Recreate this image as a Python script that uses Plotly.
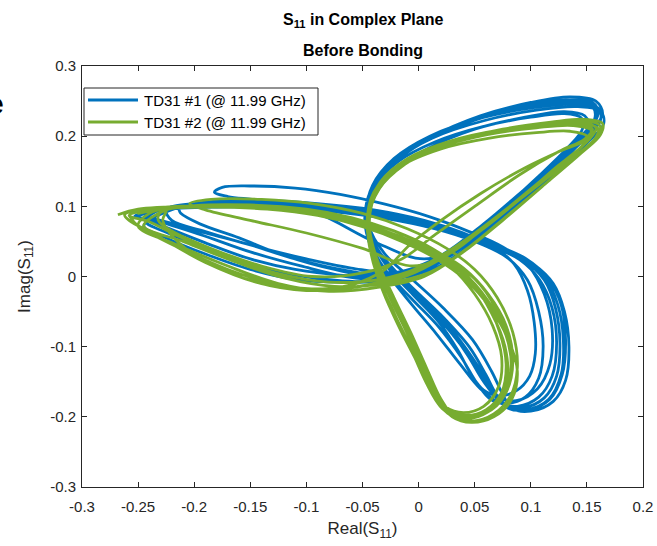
import plotly.graph_objects as go

# ---------------- data (Real, Imag) ----------------
blue_loop1 = [(-0.245,0.088),(-0.22,0.098),(-0.17,0.101),(-0.12,0.099),(-0.07,0.093),(-0.02,0.082),(0.03,0.066),(0.065,0.047),(0.095,0.026),(0.115,-0.002),(0.127,-0.04),(0.131,-0.09),(0.128,-0.14),(0.117,-0.175),(0.097,-0.19),(0.08,-0.186),(0.067,-0.165),(0.053,-0.128),(0.034,-0.085),(0.01,-0.042),(-0.015,-0.002),(-0.037,0.035),(-0.046,0.075),(-0.042,0.118),(-0.025,0.158),(0.005,0.192),(0.05,0.224),(0.1,0.244),(0.14,0.251),(0.158,0.243),(0.158,0.222),(0.14,0.186),(0.11,0.14),(0.075,0.09),(0.04,0.045),(0.01,0.012),(-0.03,-0.006),(-0.07,-0.006),(-0.11,0.002),(-0.15,0.018),(-0.19,0.04),(-0.225,0.063),(-0.243,0.078)]
blue_loop2 = [(-0.235,0.092),(-0.21,0.101),(-0.16,0.104),(-0.11,0.101),(-0.06,0.095),(-0.015,0.083),(0.03,0.064),(0.062,0.045),(0.09,0.024),(0.108,-0.005),(0.119,-0.045),(0.123,-0.095),(0.119,-0.142),(0.107,-0.172),(0.088,-0.185),(0.072,-0.18),(0.055,-0.16),(0.037,-0.125),(0.016,-0.082),(-0.006,-0.04),(-0.026,0.0),(-0.042,0.04),(-0.048,0.082),(-0.042,0.125),(-0.022,0.165),(0.01,0.198),(0.055,0.229),(0.1,0.248),(0.135,0.256),(0.158,0.25),(0.164,0.232),(0.155,0.21),(0.13,0.172),(0.095,0.125),(0.058,0.075),(0.02,0.03),(-0.02,0.006),(-0.06,0.012),(-0.1,0.025),(-0.15,0.045),(-0.19,0.064),(-0.22,0.08)]
blue_loop3 = [(-0.225,0.095),(-0.2,0.104),(-0.15,0.106),(-0.1,0.103),(-0.05,0.096),(-0.005,0.082),(0.04,0.06),(0.075,0.04),(0.102,0.018),(0.12,-0.01),(0.13,-0.05),(0.134,-0.1),(0.131,-0.148),(0.12,-0.178),(0.1,-0.192),(0.083,-0.188),(0.075,-0.168),(0.065,-0.135),(0.048,-0.09),(0.022,-0.045),(-0.005,-0.005),(-0.03,0.032),(-0.044,0.072),(-0.04,0.112),(-0.022,0.15),(0.008,0.182),(0.05,0.21),(0.095,0.227),(0.13,0.235),(0.148,0.229),(0.152,0.21),(0.138,0.18),(0.11,0.135),(0.075,0.085),(0.04,0.045),(0.005,0.025),(-0.04,0.05),(-0.09,0.09),(-0.14,0.108),(-0.17,0.114)]
blue_loop4 = [(-0.182,0.12),(-0.175,0.127),(-0.15,0.129),(-0.11,0.126),(-0.07,0.117),(-0.03,0.103),(0.01,0.085),(0.045,0.064),(0.075,0.042),(0.098,0.015),(0.112,-0.025),(0.119,-0.075),(0.117,-0.125),(0.106,-0.16),(0.087,-0.177),(0.07,-0.172),(0.058,-0.15),(0.044,-0.113),(0.025,-0.07),(0.002,-0.03),(-0.022,0.01),(-0.04,0.048),(-0.046,0.09),(-0.04,0.13),(-0.02,0.166),(0.012,0.197),(0.058,0.222),(0.105,0.237),(0.142,0.242),(0.162,0.236),(0.165,0.218),(0.15,0.19),(0.12,0.145),(0.085,0.097),(0.05,0.05),(0.015,0.012),(-0.025,-0.004),(-0.065,0.0),(-0.105,0.015),(-0.15,0.035),(-0.195,0.06),(-0.235,0.08)]
blue_loop5 = [(-0.25,0.085),(-0.225,0.096),(-0.18,0.1),(-0.13,0.099),(-0.08,0.094),(-0.03,0.084),(0.02,0.068),(0.058,0.05),(0.09,0.028),(0.112,0.0),(0.124,-0.04),(0.129,-0.09),(0.127,-0.14),(0.116,-0.175),(0.096,-0.19),(0.079,-0.187),(0.07,-0.17),(0.06,-0.14),(0.045,-0.1),(0.02,-0.055),(-0.008,-0.012),(-0.032,0.028),(-0.046,0.073),(-0.044,0.115),(-0.028,0.155),(0.0,0.19),(0.045,0.222),(0.095,0.243),(0.135,0.252),(0.155,0.248),(0.16,0.232),(0.148,0.2),(0.12,0.152),(0.085,0.1),(0.048,0.052),(0.012,0.014),(-0.028,-0.006),(-0.07,-0.008),(-0.11,-0.004),(-0.15,0.01),(-0.19,0.032),(-0.225,0.055),(-0.245,0.072)]
blue_loop6 = [(-0.215,0.098),(-0.19,0.106),(-0.14,0.108),(-0.09,0.104),(-0.04,0.095),(0.005,0.08),(0.04,0.062),(0.066,0.043),(0.085,0.018),(0.097,-0.02),(0.103,-0.065),(0.104,-0.11),(0.099,-0.142),(0.087,-0.163),(0.071,-0.17),(0.058,-0.162),(0.047,-0.14),(0.035,-0.105),(0.018,-0.065),(-0.005,-0.026),(-0.027,0.012),(-0.041,0.05),(-0.045,0.09),(-0.038,0.13),(-0.018,0.164),(0.015,0.192),(0.058,0.214),(0.1,0.227),(0.13,0.232),(0.145,0.226),(0.146,0.21),(0.132,0.182),(0.105,0.14),(0.072,0.092),(0.038,0.046),(0.004,0.012),(-0.035,0.0),(-0.075,0.01),(-0.12,0.03),(-0.16,0.055),(-0.195,0.075),(-0.212,0.09),(-0.215,0.098)]
blue_loop7 = [(-0.24,0.09),(-0.215,0.1),(-0.165,0.103),(-0.115,0.1),(-0.065,0.094),(-0.018,0.083),(0.028,0.066),(0.062,0.048),(0.092,0.025),(0.112,-0.005),(0.122,-0.045),(0.126,-0.095),(0.123,-0.142),(0.112,-0.173),(0.093,-0.187),(0.076,-0.183),(0.064,-0.162),(0.05,-0.125),(0.03,-0.082),(0.006,-0.04),(-0.018,0.0),(-0.038,0.038),(-0.047,0.078),(-0.043,0.12),(-0.024,0.16),(0.007,0.194),(0.052,0.224),(0.1,0.242),(0.138,0.249),(0.155,0.242),(0.157,0.225),(0.142,0.195),(0.115,0.15),(0.08,0.1),(0.044,0.052),(0.01,0.016),(-0.03,0.0),(-0.07,0.002),(-0.11,0.01),(-0.15,0.025),(-0.19,0.048),(-0.225,0.07),(-0.243,0.082)]
blue_loop8 = [(-0.253,0.086),(-0.23,0.095),(-0.18,0.099),(-0.13,0.098),(-0.08,0.093),(-0.03,0.083),(0.015,0.068),(0.05,0.05),(0.078,0.028),(0.097,-0.005),(0.107,-0.05),(0.111,-0.1),(0.107,-0.145),(0.095,-0.172),(0.078,-0.181),(0.064,-0.175),(0.052,-0.152),(0.038,-0.115),(0.018,-0.072),(-0.006,-0.032),(-0.029,0.008),(-0.043,0.048),(-0.047,0.09),(-0.041,0.13),(-0.022,0.168),(0.01,0.2),(0.056,0.226),(0.104,0.241),(0.142,0.246),(0.16,0.24),(0.162,0.222),(0.146,0.193),(0.116,0.148),(0.082,0.1),(0.046,0.052),(0.012,0.015),(-0.028,0.002),(-0.07,0.01),(-0.11,0.025),(-0.15,0.045),(-0.19,0.062),(-0.225,0.078),(-0.245,0.085)]

green_loop1 = [(-0.268,0.088),(-0.25,0.096),(-0.2,0.1),(-0.15,0.099),(-0.1,0.092),(-0.06,0.078),(-0.02,0.058),(0.015,0.036),(0.04,0.012),(0.062,-0.025),(0.078,-0.07),(0.084,-0.12),(0.078,-0.165),(0.062,-0.193),(0.042,-0.203),(0.026,-0.195),(0.012,-0.165),(-0.002,-0.12),(-0.018,-0.07),(-0.032,-0.02),(-0.042,0.03),(-0.045,0.08),(-0.035,0.125),(-0.012,0.16),(0.025,0.19),(0.07,0.208),(0.115,0.218),(0.148,0.222),(0.162,0.214),(0.158,0.198),(0.14,0.17),(0.11,0.128),(0.075,0.08),(0.04,0.035),(0.005,0.0),(-0.035,-0.015),(-0.08,-0.021),(-0.125,-0.01),(-0.17,0.015),(-0.215,0.045),(-0.25,0.072)]
green_loop2 = [(-0.24,0.09),(-0.22,0.098),(-0.17,0.101),(-0.12,0.097),(-0.075,0.086),(-0.035,0.068),(0.0,0.046),(0.03,0.022),(0.055,-0.012),(0.073,-0.06),(0.082,-0.11),(0.079,-0.158),(0.065,-0.188),(0.045,-0.2),(0.028,-0.193),(0.015,-0.168),(0.002,-0.125),(-0.012,-0.075),(-0.027,-0.025),(-0.04,0.025),(-0.046,0.075),(-0.04,0.12),(-0.018,0.157),(0.018,0.186),(0.062,0.205),(0.108,0.216),(0.142,0.22),(0.158,0.212),(0.152,0.195),(0.13,0.165),(0.098,0.122),(0.062,0.075),(0.03,0.035),(-0.005,0.015),(-0.05,0.04),(-0.1,0.062),(-0.15,0.08),(-0.19,0.095)]
green_loop3 = [(-0.204,0.104),(-0.185,0.11),(-0.14,0.11),(-0.095,0.104),(-0.05,0.09),(-0.01,0.068),(0.025,0.04),(0.05,0.01),(0.07,-0.03),(0.084,-0.08),(0.088,-0.13),(0.082,-0.17),(0.067,-0.196),(0.048,-0.206),(0.032,-0.2),(0.02,-0.175),(0.007,-0.13),(-0.007,-0.08),(-0.022,-0.03),(-0.036,0.02),(-0.044,0.07),(-0.04,0.115),(-0.02,0.152),(0.014,0.182),(0.058,0.202),(0.105,0.213),(0.14,0.218),(0.155,0.21),(0.148,0.196),(0.125,0.178),(0.09,0.145),(0.05,0.1),(0.015,0.06),(-0.015,0.025),(-0.05,0.005),(-0.095,0.0),(-0.14,0.015),(-0.185,0.04),(-0.22,0.065),(-0.232,0.08)]
green_loop4 = [(-0.23,0.092),(-0.21,0.099),(-0.16,0.1),(-0.11,0.095),(-0.065,0.082),(-0.028,0.062),(0.005,0.038),(0.03,0.012),(0.05,-0.025),(0.066,-0.07),(0.074,-0.115),(0.071,-0.158),(0.058,-0.185),(0.04,-0.194),(0.024,-0.186),(0.012,-0.16),(0.0,-0.118),(-0.013,-0.07),(-0.027,-0.022),(-0.039,0.028),(-0.044,0.078),(-0.037,0.122),(-0.016,0.157),(0.02,0.182),(0.062,0.197),(0.105,0.205),(0.135,0.207),(0.15,0.2),(0.145,0.185),(0.122,0.155),(0.09,0.11),(0.056,0.066),(0.023,0.028),(-0.012,0.0),(-0.055,-0.015),(-0.1,-0.02),(-0.145,-0.008),(-0.19,0.02),(-0.235,0.06),(-0.258,0.08)]
green_loop5 = [(-0.262,0.088),(-0.24,0.097),(-0.19,0.1),(-0.14,0.098),(-0.09,0.09),(-0.05,0.075),(-0.012,0.053),(0.02,0.028),(0.045,-0.002),(0.066,-0.045),(0.08,-0.095),(0.082,-0.14),(0.073,-0.178),(0.055,-0.198),(0.036,-0.201),(0.021,-0.188),(0.008,-0.155),(-0.005,-0.11),(-0.02,-0.06),(-0.034,-0.01),(-0.043,0.04),(-0.045,0.09),(-0.033,0.132),(-0.008,0.165),(0.03,0.192),(0.075,0.21),(0.118,0.22),(0.148,0.224),(0.164,0.218),(0.162,0.202),(0.145,0.176),(0.115,0.135),(0.08,0.088),(0.045,0.042),(0.01,0.006),(-0.03,-0.01),(-0.075,-0.014),(-0.12,-0.002),(-0.165,0.022),(-0.21,0.05),(-0.245,0.072)]
green_loop6 = [(-0.225,0.095),(-0.2,0.101),(-0.15,0.102),(-0.1,0.096),(-0.06,0.084),(-0.022,0.065),(0.012,0.04),(0.038,0.01),(0.058,-0.03),(0.072,-0.078),(0.078,-0.125),(0.074,-0.165),(0.06,-0.19),(0.042,-0.198),(0.027,-0.19),(0.014,-0.162),(0.002,-0.12),(-0.012,-0.072),(-0.026,-0.022),(-0.038,0.028),(-0.044,0.075),(-0.038,0.12),(-0.018,0.155),(0.016,0.183),(0.06,0.202),(0.105,0.212),(0.138,0.215),(0.155,0.207),(0.15,0.195),(0.128,0.18),(0.095,0.155),(0.055,0.118),(0.02,0.08),(-0.008,0.045),(-0.03,0.01),(-0.06,-0.012),(-0.1,-0.018),(-0.14,-0.01),(-0.185,0.018),(-0.215,0.05),(-0.228,0.08),(-0.225,0.095)]
green_loop7 = [(-0.25,0.09),(-0.23,0.098),(-0.18,0.101),(-0.13,0.098),(-0.085,0.088),(-0.045,0.072),(-0.008,0.05),(0.022,0.025),(0.047,-0.008),(0.065,-0.052),(0.077,-0.1),(0.079,-0.145),(0.07,-0.18),(0.053,-0.198),(0.035,-0.2),(0.02,-0.186),(0.007,-0.152),(-0.006,-0.105),(-0.021,-0.055),(-0.035,-0.005),(-0.044,0.045),(-0.045,0.092),(-0.034,0.135),(-0.01,0.168),(0.028,0.193),(0.073,0.209),(0.115,0.216),(0.145,0.218),(0.16,0.211),(0.157,0.196),(0.138,0.17),(0.108,0.132),(0.072,0.088),(0.036,0.046),(0.002,0.014),(-0.035,-0.004),(-0.08,-0.008),(-0.125,0.004),(-0.17,0.028),(-0.215,0.058),(-0.24,0.078)]
green_loop8 = [(-0.258,0.087),(-0.235,0.096),(-0.185,0.099),(-0.135,0.096),(-0.09,0.087),(-0.05,0.071),(-0.015,0.05),(0.015,0.026),(0.042,-0.005),(0.064,-0.045),(0.08,-0.09),(0.088,-0.135),(0.083,-0.175),(0.067,-0.2),(0.047,-0.208),(0.03,-0.2),(0.016,-0.172),(0.003,-0.128),(-0.011,-0.078),(-0.026,-0.028),(-0.038,0.022),(-0.045,0.07),(-0.041,0.115),(-0.022,0.152),(0.01,0.18),(0.052,0.2),(0.098,0.212),(0.135,0.217),(0.153,0.212),(0.152,0.197),(0.136,0.172),(0.108,0.134),(0.075,0.092),(0.04,0.05),(0.005,0.015),(-0.035,-0.008),(-0.08,-0.018),(-0.125,-0.012),(-0.17,0.01),(-0.215,0.042),(-0.25,0.072),(-0.258,0.087)]

series_names = ["TD31 #1 (@ 11.99 GHz)", "TD31 #2 (@ 11.99 GHz)"]
series_colors = ["#0072BD", "#77AC30"]
x_ticks = [-0.3, -0.25, -0.2, -0.15, -0.1, -0.05, 0, 0.05, 0.1, 0.15, 0.2]
x_tick_labels = ["-0.3", "-0.25", "-0.2", "-0.15", "-0.1", "-0.05", "0", "0.05", "0.1", "0.15", "0.2"]
y_ticks = [-0.3, -0.2, -0.1, 0, 0.1, 0.2, 0.3]
y_tick_labels = ["-0.3", "-0.2", "-0.1", "0", "0.1", "0.2", "0.3"]

blue_pts = (blue_loop1 + blue_loop2 + blue_loop3 + blue_loop4 + blue_loop5 + blue_loop6
            + blue_loop7 + blue_loop8)
green_pts = (green_loop1 + green_loop2 + green_loop3 + green_loop4 + green_loop5 + green_loop6
             + green_loop7 + green_loop8)

FONT = "Liberation Sans, Arial, Helvetica, sans-serif"
fig = go.Figure()
for pts, name, col in [(blue_pts, series_names[0], series_colors[0]),
                       (green_pts, series_names[1], series_colors[1])]:
    fig.add_trace(go.Scatter(
        x=[p[0] for p in pts], y=[p[1] for p in pts], name=name, mode="lines",
        showlegend=False,
        line=dict(color=col, width=2.8, shape="spline", smoothing=1.0)))

# legend drawn MATLAB-style (long line samples) in paper coordinates
PLOT_L, PLOT_W, PLOT_B, PLOT_H = 82, 561, 487, 421
def px(xp):
    return (xp - PLOT_L) / PLOT_W
def py(yp):
    return (PLOT_B - yp) / PLOT_H

shapes = [dict(type="rect", xref="paper", yref="paper", x0=px(84), x1=px(318),
               y0=py(135), y1=py(88), fillcolor="white",
               line=dict(color="#262626", width=1), layer="above")]
annotations = []
for i, (name, col) in enumerate(zip(series_names, series_colors)):
    yy = py(100 + 22 * i)
    shapes.append(dict(type="line", xref="paper", yref="paper", x0=px(88), x1=px(138),
                       y0=yy, y1=yy, line=dict(color=col, width=3), layer="above"))
    annotations.append(dict(text=name, xref="paper", yref="paper", x=px(142), y=yy,
                            xanchor="left", yanchor="middle", showarrow=False,
                            font=dict(family=FONT, size=15, color="#000000")))

annotations += [
    dict(text="<b>S<sub>11</sub> in Complex Plane</b>", xref="paper", yref="paper",
         x=0.5, y=py(20), xanchor="center", yanchor="middle", showarrow=False,
         font=dict(family=FONT, size=16, color="#000000")),
    dict(text="<b>Before Bonding</b>", xref="paper", yref="paper",
         x=0.5, y=py(50), xanchor="center", yanchor="middle", showarrow=False,
         font=dict(family=FONT, size=16, color="#000000")),
    dict(text="<b>e</b>", xref="paper", yref="paper", x=-0.135, y=0.91,
         xanchor="right", yanchor="middle", showarrow=False,
         font=dict(family=FONT, size=30, color="#000000"))]

axis_common = dict(showgrid=False, zeroline=False, showline=True, linecolor="#262626",
                   linewidth=1, mirror="ticks", ticks="inside", ticklen=5, automargin=False,
                   tickcolor="#262626", tickfont=dict(family=FONT, size=15, color="#262626"))
fig.update_layout(
    width=657, height=546,
    margin=dict(l=82, r=14, t=66, b=59),
    paper_bgcolor="white", plot_bgcolor="white",
    font=dict(family=FONT, color="#262626"),
    xaxis=dict(range=[-0.3, 0.2], tickvals=x_ticks, ticktext=x_tick_labels,
               ticklabelstandoff=6,
               title=dict(text="Real(S<sub>11</sub>)", font=dict(family=FONT, size=17, color="#262626"), standoff=8),
               **axis_common),
    yaxis=dict(range=[-0.3, 0.3], tickvals=y_ticks, ticktext=y_tick_labels,
               ticklabelstandoff=2,
               title=dict(text="Imag(S<sub>11</sub>)", font=dict(family=FONT, size=17, color="#262626"), standoff=15),
               **axis_common),
    showlegend=False,
    shapes=shapes,
    annotations=annotations,
)
fig.write_html("out.html")
